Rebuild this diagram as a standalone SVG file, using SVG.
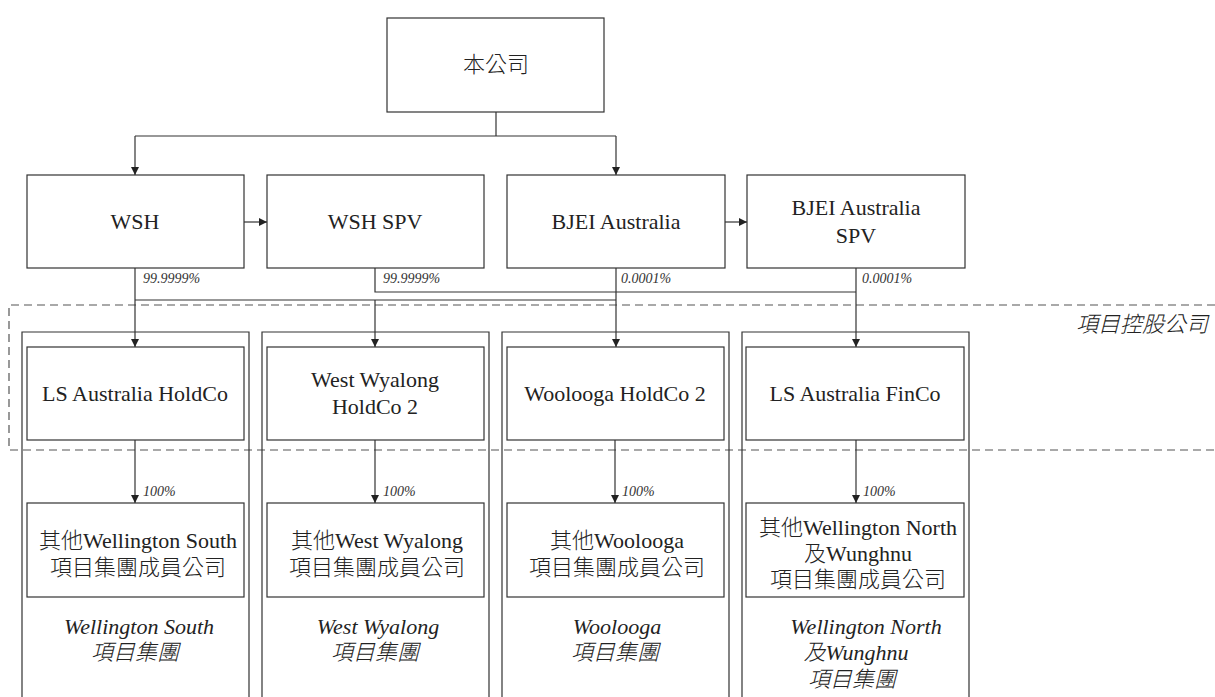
<svg xmlns="http://www.w3.org/2000/svg" width="1215" height="697" viewBox="0 0 1215 697">
<defs>
<style>
.box{fill:#fff;stroke:#333;stroke-width:1.2}
.col{fill:none;stroke:#333;stroke-width:1.2}
.ln{fill:none;stroke:#333;stroke-width:1.2}
.dash{fill:none;stroke:#555;stroke-width:1.2;stroke-dasharray:8 5}
.t{font-family:"Liberation Serif","Noto Sans CJK TC",serif;font-size:22px;fill:#222;text-anchor:middle}
.it{font-family:"Liberation Serif","Noto Sans CJK TC",serif;font-size:22px;font-style:italic;fill:#222;text-anchor:middle}
.pc{font-family:"Liberation Serif",serif;font-size:14px;font-style:italic;fill:#333}
.cjk{font-family:"Noto Sans CJK TC",sans-serif;font-weight:300}
</style>
<marker id="ah" viewBox="0 0 10 10" refX="10" refY="5" markerWidth="8" markerHeight="8" markerUnits="userSpaceOnUse" orient="auto">
<path d="M0,0 L10,5 L0,10 z" fill="#222"/>
</marker>
</defs>

<g id="dashed-region">
<path class="dash" d="M1215,305 H9 V450 H1215"/>
<text x="1208" y="332" class="it cjk" style="text-anchor:end">項目控股公司</text>
</g>

<g id="columns">
<path class="col" d="M22,700 V332 H249 V700"/>
<path class="col" d="M262,700 V332 H489 V700"/>
<path class="col" d="M502,700 V332 H729 V700"/>
<path class="col" d="M742,700 V332 H969 V700"/>
</g>

<g id="connectors">
<path class="ln" d="M496,112 V136"/>
<path class="ln" d="M135,136 H616"/>
<path class="ln" d="M135,136 V175" marker-end="url(#ah)"/>
<path class="ln" d="M616,136 V175" marker-end="url(#ah)"/>
<path class="ln" d="M244,222 H267" marker-end="url(#ah)"/>
<path class="ln" d="M725,222 H747" marker-end="url(#ah)"/>
<path class="ln" d="M135,268 V347" marker-end="url(#ah)"/>
<path class="ln" d="M135,300 H616"/>
<path class="ln" d="M375,268 V292 H856"/>
<path class="ln" d="M375,300 V347" marker-end="url(#ah)"/>
<path class="ln" d="M616,268 V347" marker-end="url(#ah)"/>
<path class="ln" d="M856,268 V347" marker-end="url(#ah)"/>
<path class="ln" d="M135,440 V503" marker-end="url(#ah)"/>
<path class="ln" d="M375,440 V503" marker-end="url(#ah)"/>
<path class="ln" d="M615,440 V503" marker-end="url(#ah)"/>
<path class="ln" d="M856,440 V503" marker-end="url(#ah)"/>
<text class="pc" x="143" y="283">99.9999%</text>
<text class="pc" x="383" y="283">99.9999%</text>
<text class="pc" x="621" y="283">0.0001%</text>
<text class="pc" x="862" y="283">0.0001%</text>
<text class="pc" x="143" y="496">100%</text>
<text class="pc" x="383" y="496">100%</text>
<text class="pc" x="622" y="496">100%</text>
<text class="pc" x="863" y="496">100%</text>
</g>

<g id="company">
<rect class="box" x="387" y="18" width="217" height="94"/>
<text class="t cjk" x="496" y="72">本公司</text>
</g>

<g id="wsh">
<rect class="box" x="27" y="175" width="217" height="93"/>
<text class="t" x="135" y="229">WSH</text>
</g>
<g id="wsh-spv">
<rect class="box" x="267" y="175" width="217" height="93"/>
<text class="t" x="375" y="229">WSH SPV</text>
</g>
<g id="bjei-australia">
<rect class="box" x="507" y="175" width="218" height="93"/>
<text class="t" x="616" y="229">BJEI Australia</text>
</g>
<g id="bjei-australia-spv">
<rect class="box" x="747" y="175" width="218" height="93"/>
<text class="t" x="856" y="215">BJEI Australia</text>
<text class="t" x="856" y="243">SPV</text>
</g>

<g id="ls-australia-holdco">
<rect class="box" x="27" y="347" width="217" height="93"/>
<text class="t" x="135" y="401">LS Australia HoldCo</text>
</g>
<g id="west-wyalong-holdco-2">
<rect class="box" x="267" y="347" width="217" height="93"/>
<text class="t" x="375" y="387">West Wyalong</text>
<text class="t" x="375" y="414">HoldCo 2</text>
</g>
<g id="woolooga-holdco-2">
<rect class="box" x="507" y="347" width="217" height="93"/>
<text class="t" x="615" y="401">Woolooga HoldCo 2</text>
</g>
<g id="ls-australia-finco">
<rect class="box" x="746" y="347" width="218" height="93"/>
<text class="t" x="855" y="401">LS Australia FinCo</text>
</g>

<g id="ws-members">
<rect class="box" x="27" y="503" width="217" height="94"/>
<text class="t" x="138" y="548"><tspan class="cjk">其他</tspan>Wellington South</text>
<text class="t cjk" x="138" y="575">項目集團成員公司</text>
</g>
<g id="ww-members">
<rect class="box" x="267" y="503" width="217" height="94"/>
<text class="t" x="377" y="548"><tspan class="cjk">其他</tspan>West Wyalong</text>
<text class="t cjk" x="377" y="575">項目集團成員公司</text>
</g>
<g id="wo-members">
<rect class="box" x="507" y="503" width="217" height="94"/>
<text class="t" x="617" y="548"><tspan class="cjk">其他</tspan>Woolooga</text>
<text class="t cjk" x="617" y="575">項目集團成員公司</text>
</g>
<g id="wn-members">
<rect class="box" x="746" y="503" width="218" height="94"/>
<text class="t" x="858" y="535"><tspan class="cjk">其他</tspan>Wellington North</text>
<text class="t" x="858" y="561"><tspan class="cjk">及</tspan>Wunghnu</text>
<text class="t cjk" x="858" y="587">項目集團成員公司</text>
</g>

<g id="group-labels">
<text class="it" x="139" y="634">Wellington South</text>
<text class="it cjk" x="135" y="660">項目集團</text>
<text class="it" x="378" y="634">West Wyalong</text>
<text class="it cjk" x="375" y="660">項目集團</text>
<text class="it" x="617" y="634">Woolooga</text>
<text class="it cjk" x="615" y="660">項目集團</text>
<text class="it" x="866" y="634">Wellington North</text>
<text class="it" x="856" y="660"><tspan class="cjk">及</tspan>Wunghnu</text>
<text class="it cjk" x="852" y="687">項目集團</text>
</g>
</svg>
